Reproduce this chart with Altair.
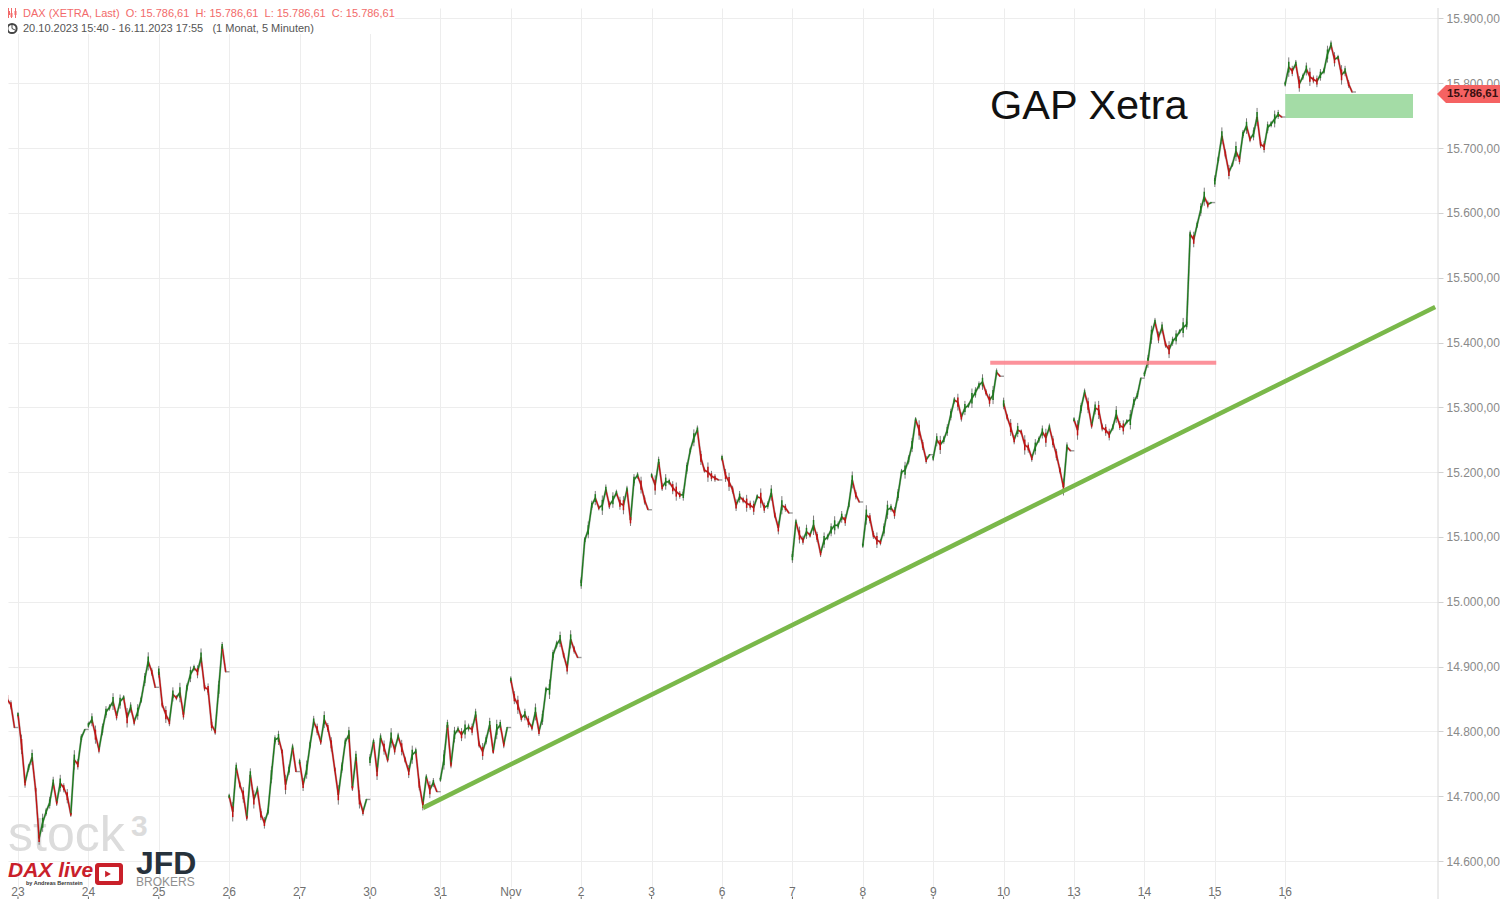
import altair as alt
import pandas as pd

DAY_LABELS = ["23","24","25","26","27","30","31","Nov","2","3","6","7","8","9","10","13","14","15","16"]
PRICE_TICKS = [14600,14700,14800,14900,15000,15100,15200,15300,15400,15500,15600,15700,15800,15900]

s_oct20 = [14911,14877,14849,14841,14806]
s_23 = [14826,14780,14721,14744,14760,14710,14635,14659,14676,14690,14721,14690,14720,14713,14700,14672,14756,14749,14790,14803]
s_24 = [14810,14818,14795,14772,14803,14830,14837,14846,14824,14846,14852,14821,14837,14815,14830,14849,14880,14908,14892,14868]
s_25 = [14892,14841,14826,14815,14857,14852,14860,14826,14868,14888,14898,14892,14914,14868,14865,14810,14800,14865,14931,14892]
s_26 = [14700,14676,14744,14718,14702,14667,14733,14695,14710,14672,14659,14676,14733,14787,14790,14769,14718,14741,14775,14738]
s_27 = [14753,14718,14741,14780,14815,14803,14784,14818,14806,14780,14741,14702,14744,14784,14795,14713,14760,14695,14676,14695]
s_30 = [14756,14784,14738,14790,14775,14756,14790,14772,14792,14775,14756,14738,14764,14769,14718,14687,14729,14710,14721,14707]
s_31 = [14726,14756,14810,14749,14795,14803,14795,14803,14806,14803,14826,14780,14769,14787,14810,14769,14803,14810,14780,14806]
s_n1 = [14880,14852,14841,14821,14826,14815,14806,14830,14800,14821,14865,14865,14918,14934,14942,14918,14898,14942,14926,14914]
s_n2 = [15029,15095,15111,15149,15160,15145,15149,15173,15149,15157,15168,15152,15149,15173,15126,15188,15195,15180,15157,15142]
s_n3 = [15195,15180,15216,15177,15185,15185,15176,15170,15165,15165,15206,15234,15253,15265,15222,15203,15200,15194,15191,15188]
s_n6 = [15222,15195,15185,15173,15149,15162,15157,15152,15149,15145,15162,15160,15145,15149,15168,15134,15114,15149,15145,15137]
s_n7 = [15069,15123,15103,15095,15108,15103,15118,15100,15075,15095,15100,15111,15118,15118,15131,15126,15149,15188,15165,15154]
s_n8 = [15087,15134,15129,15103,15095,15092,15111,15142,15145,15137,15165,15200,15203,15219,15242,15281,15265,15242,15219,15227]
s_n9 = [15222,15250,15242,15250,15265,15289,15311,15308,15285,15299,15303,15314,15323,15334,15339,15323,15311,15319,15354,15348]
s_n10 = [15306,15285,15269,15250,15265,15262,15242,15238,15222,15239,15250,15262,15253,15269,15247,15227,15203,15177,15239,15233]
s_n13 = [15281,15265,15299,15323,15303,15272,15299,15296,15269,15265,15258,15269,15289,15272,15269,15278,15281,15308,15319,15345]
s_n14 = [15351,15371,15412,15432,15408,15423,15397,15389,15402,15408,15417,15423,15428,15567,15559,15582,15605,15625,15613,15616]
s_n15 = [15649,15683,15719,15691,15663,15675,15695,15683,15722,15734,15714,15722,15748,15706,15702,15732,15737,15745,15752,15748]
s_n16 = [15799,15825,15819,15830,15799,15810,15822,15810,15806,15803,15813,15819,15845,15859,15837,15840,15813,15819,15799,15786.61]

SESSIONS = [s_23,s_24,s_25,s_26,s_27,s_30,s_31,s_n1,s_n2,s_n3,s_n6,s_n7,s_n8,s_n9,s_n10,s_n13,s_n14,s_n15,s_n16]

# typical wick / body half-heights seen on the candles, in index points
WICKS = [9, 5, 13, 7, 11, 4, 15, 8, 6, 12, 5, 10, 14, 6, 9]

TREND_DAYS = [5.753, 20.13]
TREND_PRICES = [14682, 15455]
RES_DAYS = [13.81, 17.02]
RES_PRICE = 15369
GAP_DAYS = [18.0, 19.815]
GAP_PRICES = [15746.5, 15783.5]

PAGE = 8
W, H = 1430, 879
STEP = 0.05


def px(v):
    return alt.value(v - PAGE)


segs, pts, wicks = [], [], []
counter = 0


def add(sess, vals, day, first):
    global counter
    for k, p in enumerate(vals):
        x = day + (first + k) * STEP
        pts.append({"s": sess, "x": x, "p": p})
        prev = vals[k - 1] if k else p
        d = "up" if p >= prev else "down"
        if k:
            segs.append({"x0": x - STEP, "x1": x, "p0": prev, "p1": p, "d": d})
        w = WICKS[counter % len(WICKS)]
        counter += 1
        last = k == len(vals) - 1
        if last:
            w = 1
        wicks.append({"x": x, "lo": p - w, "hi": p + w, "blo": p - w * 0.55, "bhi": p + w * 0.55, "d": d})
    end = day + (first + len(vals) - 1) * STEP
    segs.append({"x0": end, "x1": end + 0.055, "p0": vals[-1], "p1": vals[-1], "d": "flat"})


add(-1, s_oct20, -1, 15)
for i, v in enumerate(SESSIONS):
    add(i, v, i, 0)
seg_df, pt_df, wick_df = pd.DataFrame(segs), pd.DataFrame(pts), pd.DataFrame(wicks)

xs = alt.Scale(domain=[-0.142, 20.17], nice=False, zero=False)
ys = alt.Scale(domain=[14559.9, 15916.2], nice=False, zero=False)
cs = alt.Scale(domain=["up", "down", "flat"], range=["#1f7a1f", "#c01414", "#9a9a9a"])

GRID = "#ededed"
xax = alt.Axis(values=list(range(19)), labels=False, title=None, grid=True, gridColor=GRID,
               ticks=False, domain=False)
yax = alt.Axis(values=PRICE_TICKS, orient="right", title=None, grid=True, gridColor=GRID,
               tickColor="#d0d0d0", tickSize=5, domain=False, labelColor="#8a8a8a",
               labelFontSize=12, labelFont="Liberation Sans", labelPadding=3,
               labelExpr="replace(format(datum.value, ',.0f'), ',', '.') + ',00'")

base = alt.Chart(pd.DataFrame({"x": [0.0], "p": [15000.0]})).mark_point(opacity=0).encode(
    x=alt.X("x:Q", scale=xs, axis=xax), y=alt.Y("p:Q", scale=ys, axis=yax))

gap = alt.Chart(pd.DataFrame({"a": [GAP_DAYS[0]], "b": [GAP_DAYS[1]], "l": [GAP_PRICES[0]], "h": [GAP_PRICES[1]]})
    ).mark_rect(color="#a4dca6").encode(x=alt.X("a:Q", scale=xs), x2="b:Q", y=alt.Y("l:Q", scale=ys), y2="h:Q")

wick_marks = alt.Chart(wick_df).mark_rule(color="#7d7d7d", strokeWidth=1, clip=True).encode(
    x=alt.X("x:Q", scale=xs), y=alt.Y("lo:Q", scale=ys), y2="hi:Q")

halo = alt.Chart(pt_df).mark_line(color="#808080", strokeWidth=2.2, opacity=0.5, clip=True).encode(
    x=alt.X("x:Q", scale=xs), y=alt.Y("p:Q", scale=ys), detail="s:N", order="x:Q")

bars = alt.Chart(seg_df).mark_rule(strokeWidth=1.4, clip=True).encode(
    x=alt.X("x0:Q", scale=xs), x2="x1:Q", y=alt.Y("p0:Q", scale=ys), y2="p1:Q",
    color=alt.Color("d:N", legend=None, scale=cs))

bodies = alt.Chart(wick_df).mark_rule(strokeWidth=1.5, clip=True).encode(
    x=alt.X("x:Q", scale=xs), y=alt.Y("blo:Q", scale=ys), y2="bhi:Q",
    color=alt.Color("d:N", legend=None, scale=cs))

trend = alt.Chart(pd.DataFrame({"a": [TREND_DAYS[0]], "b": [TREND_DAYS[1]], "l": [TREND_PRICES[0]], "h": [TREND_PRICES[1]]})
    ).mark_rule(color="#7ab84a", strokeWidth=4.5).encode(x=alt.X("a:Q", scale=xs), x2="b:Q", y=alt.Y("l:Q", scale=ys), y2="h:Q")

res = alt.Chart(pd.DataFrame({"a": [RES_DAYS[0]], "b": [RES_DAYS[1]], "l": [RES_PRICE]})
    ).mark_rule(color="#fb7f8a", strokeWidth=4, opacity=0.85).encode(x=alt.X("a:Q", scale=xs), x2="b:Q", y=alt.Y("l:Q", scale=ys))

day_df = pd.DataFrame({"x": list(range(19)), "t": DAY_LABELS})
day_text = alt.Chart(day_df).mark_text(fontSize=12, color="#707070", font="Liberation Sans", baseline="middle").encode(
    x=alt.X("x:Q", scale=xs), y=px(892), text="t:N")
day_ticks = alt.Chart(day_df).mark_rule(color="#666666", strokeWidth=1).encode(
    x=alt.X("x:Q", scale=xs), y=px(896.5), y2=px(899))


def text(t, x, y, size, color, font="Liberation Sans", weight="normal", style="normal", align="left"):
    return alt.Chart().mark_text(text=t, fontSize=size, color=color, font=font, fontWeight=weight,
                                 fontStyle=style, align=align, baseline="middle").encode(x=px(x), y=px(y))


def box(x0, x1, y0, y1, color, radius=0):
    return alt.Chart().mark_rect(color=color, cornerRadius=radius).encode(x=px(x0), x2=px(x1), y=px(y0), y2=px(y1))


def line(x0, x1, y0, y1, color, w=1):
    return alt.Chart().mark_rule(color=color, strokeWidth=w).encode(x=px(x0), x2=px(x1), y=px(y0), y2=px(y1))


def point(x, y, shape, size, color, filled=True):
    return alt.Chart().mark_point(shape=shape, size=size, color=color, filled=filled, opacity=1).encode(x=px(x), y=px(y))


RED = "#c9202a"
NB = "\u00a0"
HEAD = f"DAX (XETRA, Last){NB}{NB}O: 15.786,61{NB}{NB}H: 15.786,61{NB}{NB}L: 15.786,61{NB}{NB}C: 15.786,61"
SPAN = f"20.10.2023 15:40 - 16.11.2023 17:55{NB}{NB}{NB}(1 Monat, 5 Minuten)"
watermark = [
    text("stock", 8, 836, 50, "#dcdcdc"),
    text("3", 131, 827, 30, "#dcdcdc", weight="bold"),
]
overlay = [
    box(8, 395, 8, 34, "#ffffff"),
    text(HEAD, 23, 13.5, 11, "#f26a6a"),
    text(SPAN, 23, 28.5, 11, "#555555"),
    line(8.5, 8.5, 8, 18, "#f26a6a"), line(11.5, 11.5, 8, 18, "#f26a6a"), line(15.5, 15.5, 8, 18, "#f26a6a"),
    box(8, 10, 11, 15, "#f26a6a"), box(10.5, 12.5, 13, 17, "#f26a6a"), box(14.5, 16.5, 11, 15, "#f26a6a"),
    point(12, 28.5, "circle", 85, "#444444", False),
    line(12, 12, 25, 28.5, "#444444"), line(12, 15, 28.5, 30, "#444444"),
    line(1438, 1438, 8, 899, "#d8d8d8"),
    text("GAP Xetra", 990, 107, 41.5, "#111111"),
    point(1446, 94, "M-1 0L0-1L0 1Z", 324, "#f56262"),
    box(1446, 1500, 85, 103, "#f56262"),
    text("15.786,61", 1447, 93.5, 11.5, "#3a1010", weight="bold"),
    text("DAX live", 8, 871, 21, RED, weight="bold", style="italic"),
    text("by Andreas Bernstein", 26, 883, 5.5, "#333333", weight="bold"),
    box(95, 123, 863, 885, RED, 3),
    box(99, 119, 867, 881, "#ffffff", 1),
    point(108, 874, "triangle-right", 45, RED),
    text("JFD", 136, 864, 32, "#27323c", weight="bold"),
    text("BROKERS", 136, 882, 12, "#8f8f8f"),
]

chart = alt.layer(base, *watermark, gap, wick_marks, halo, bars, bodies, trend, res, day_ticks, day_text, *overlay).properties(
    width=W, height=H, padding={"left": 0, "top": 0, "right": 62, "bottom": 12},
    autosize=alt.AutoSizeParams(type="none"),
).configure_view(stroke=None)

chart.save("out.html", embed_options={"renderer": "svg", "actions": False})
